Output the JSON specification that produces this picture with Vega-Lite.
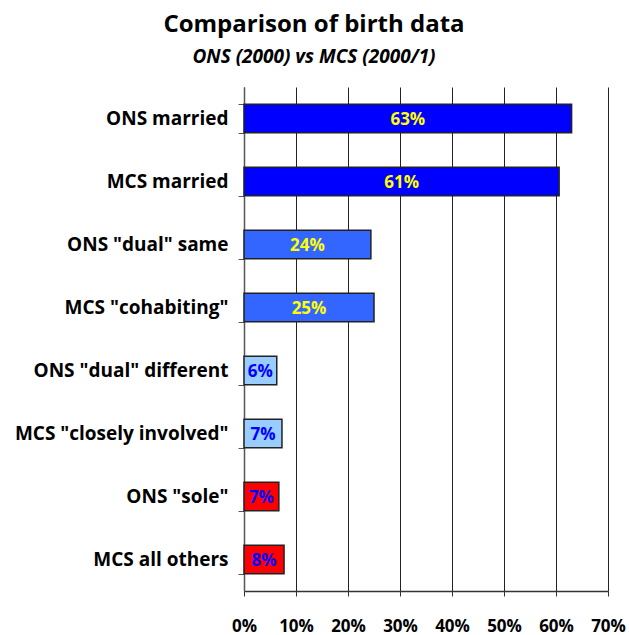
{
  "$schema": "https://vega.github.io/schema/vega-lite/v6.json",
  "autosize": {"type": "none"},
  "padding": {"left": 244, "top": 87, "right": 21, "bottom": 45},
  "width": 364,
  "height": 504,
  "background": "white",
  "title": {
    "text": "Comparison of birth data",
    "subtitle": "ONS (2000) vs MCS (2000/1)",
    "font": "Open Sans",
    "fontSize": 24,
    "fontWeight": "bold",
    "color": "black",
    "subtitleFont": "Open Sans",
    "subtitleFontSize": 19,
    "subtitleFontWeight": "bold",
    "subtitleFontStyle": "italic",
    "subtitleColor": "black",
    "subtitlePadding": 11,
    "anchor": "middle",
    "dx": -112,
    "offset": 11
  },
  "data": {
    "values": [
      {"category": "ONS married", "value": 0.63, "group": "married"},
      {"category": "MCS married", "value": 0.606, "group": "married"},
      {"category": "ONS \"dual\" same", "value": 0.244, "group": "joint"},
      {"category": "MCS \"cohabiting\"", "value": 0.25, "group": "joint"},
      {"category": "ONS \"dual\" different", "value": 0.063, "group": "separate"},
      {"category": "MCS \"closely involved\"", "value": 0.073, "group": "separate"},
      {"category": "ONS \"sole\"", "value": 0.067, "group": "sole"},
      {"category": "MCS all others", "value": 0.077, "group": "sole"}
    ]
  },
  "encoding": {
    "y": {
      "field": "category",
      "type": "nominal",
      "sort": null,
      "title": null,
      "scale": {"paddingInner": 0.55, "paddingOuter": 0.275},
      "axis": {
        "labelFont": "Open Sans",
        "labelFontSize": 19,
        "labelFontWeight": "bold",
        "labelColor": "black",
        "labelLimit": 300,
        "labelPadding": 10,
        "tickBand": "extent",
        "tickSize": 6,
        "tickColor": "#555",
        "domainColor": "#555",
        "domainWidth": 1.5
      }
    }
  },
  "layer": [
    {
      "mark": {"type": "bar", "stroke": "#222", "strokeWidth": 1.5},
      "encoding": {
        "x": {
          "field": "value",
          "type": "quantitative",
          "title": null,
          "scale": {"domain": [0, 0.7], "nice": false},
          "axis": {
            "format": ".0%",
            "values": [0, 0.1, 0.2, 0.3, 0.4, 0.5, 0.6, 0.7],
            "labelFont": "Open Sans",
            "labelFontSize": 17,
            "labelFontWeight": "bold",
            "labelColor": "black",
            "labelPadding": 22,
            "labelOverlap": false,
            "labelBound": false,
            "labelFlush": false,
            "tickSize": 5,
            "tickColor": "#333",
            "domainColor": "#333",
            "domainWidth": 1.5,
            "grid": true,
            "gridColor": "#222",
            "gridWidth": 1,
            "gridOpacity": 1
          }
        },
        "color": {
          "field": "group",
          "type": "nominal",
          "legend": null,
          "scale": {
            "domain": ["married", "joint", "separate", "sole"],
            "range": ["#0000FF", "#3366FF", "#99CCFF", "#FF0000"]
          }
        }
      }
    },
    {
      "mark": {"type": "text", "font": "Open Sans", "fontSize": 17, "fontWeight": "bold", "align": "center", "baseline": "middle", "dy": 1},
      "encoding": {
        "x": {
          "field": "value",
          "type": "quantitative",
          "scale": {"domain": [0, 1.4], "nice": false},
          "axis": null
        },
        "text": {"field": "value", "type": "quantitative", "format": ".0%"},
        "color": {
          "condition": {"test": "datum.group === 'married' || datum.group === 'joint'", "value": "#FFFF00"},
          "value": "#0000FF"
        }
      }
    }
  ],
  "resolve": {"scale": {"x": "independent"}},
  "config": {"view": {"stroke": null}}
}
